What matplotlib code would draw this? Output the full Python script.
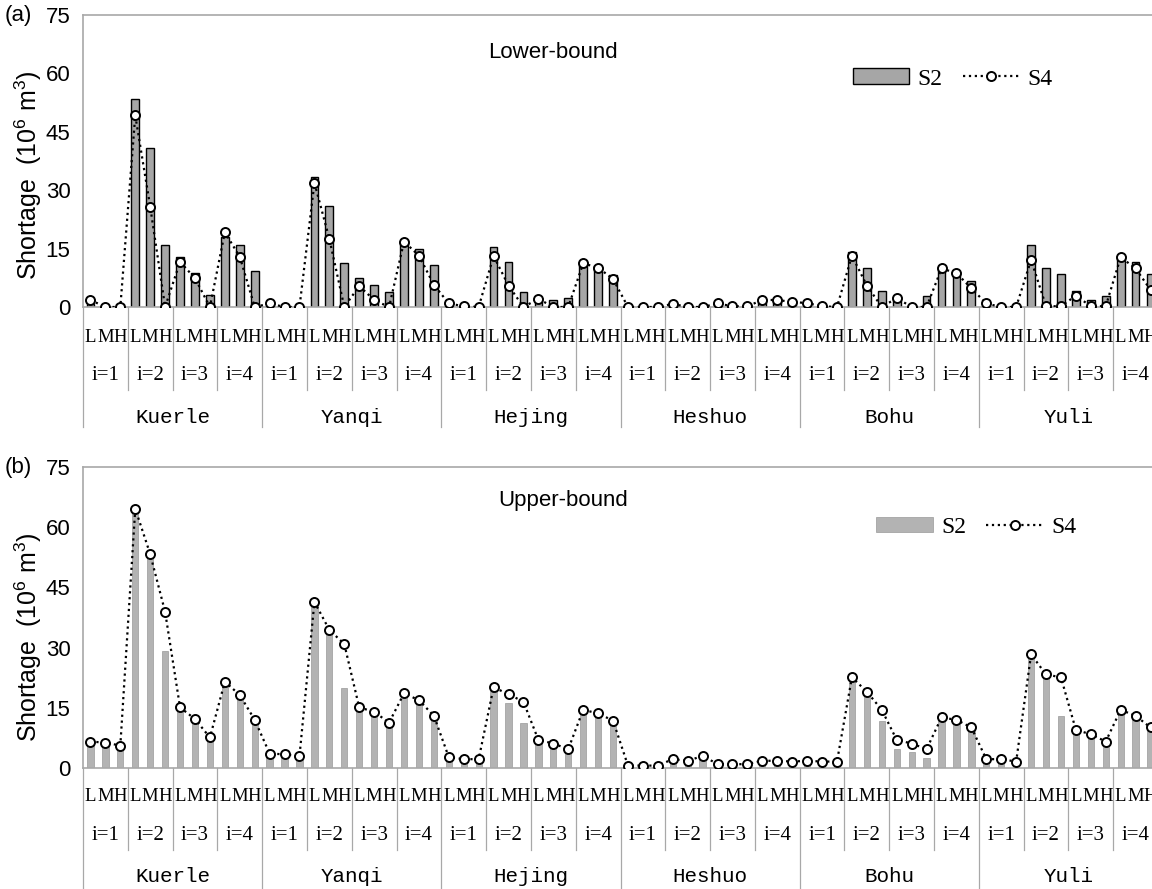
import numpy as np
import matplotlib
matplotlib.use('Agg')
import matplotlib.pyplot as plt

plt.rcParams['font.family'] = ['Liberation Sans', 'DejaVu Sans']
plt.rcParams['mathtext.fontset'] = 'custom'
plt.rcParams['mathtext.rm'] = 'Liberation Sans'
plt.rcParams['mathtext.it'] = 'Liberation Sans'

regions = ['Kuerle', 'Yanqi', 'Hejing', 'Heshuo', 'Bohu', 'Yuli']
periods = ['i=1', 'i=2', 'i=3', 'i=4']
levels = ['L', 'M', 'H']

# lower-bound shortage (10^6 m3), order: region -> period -> L/M/H
lower_s2 = [0.8, 0, 0.8, 53.4, 40.9, 15.9, 12.9, 8.7, 3.1, 18.0, 15.9, 9.3,
            0.3, 0, 0, 33.5, 26.0, 11.2, 7.5, 5.7, 3.8, 16.6, 14.9, 10.8,
            0, 0, 0, 15.5, 11.6, 3.8, 2.3, 1.8, 2.3, 10.8, 10.4, 8.2,
            0, 0, 0, 0.8, 0.5, 0, 0.7, 0, 0, 1.6, 1.5, 1.2,
            0.3, 0, 0, 14.2, 10.1, 4.1, 2.3, 0.5, 2.8, 9.9, 8.7, 6.7,
            0.3, 0, 0, 15.9, 10.1, 8.5, 4.1, 1.8, 2.8, 12.5, 11.5, 8.5]
lower_s4 = [1.8, 0, 0, 49.2, 25.8, 0, 11.6, 7.4, 0, 19.2, 12.9, 0,
            0.9, 0, 0, 31.9, 17.5, 0, 5.4, 1.8, 0, 16.8, 13.2, 5.7,
            0.9, 0.2, 0, 13.1, 5.5, 0, 2.1, 0, 0, 11.2, 10.1, 7.2,
            0, 0, 0, 0.8, 0, 0, 0.9, 0.2, 0.2, 1.8, 1.8, 1.3,
            1.0, 0.2, 0, 13.2, 5.5, 0, 2.3, 0, 0, 9.9, 8.7, 4.8,
            0.9, 0, 0, 12.1, 0.2, 0.2, 2.9, 0.2, 0.2, 12.8, 9.9, 4.4]

# upper-bound shortage
upper_s2 = [6.2, 5.7, 5.1, 64.0, 52.5, 29.2, 15.0, 12.0, 7.3, 20.5, 18.0, 11.5,
            3.3, 3.0, 2.7, 40.5, 33.5, 20.0, 14.8, 13.5, 10.8, 18.0, 16.5, 12.5,
            2.0, 2.0, 2.0, 19.5, 16.1, 11.1, 6.5, 5.6, 4.4, 14.0, 13.0, 11.5,
            0.4, 0.4, 0.4, 1.8, 1.5, 2.5, 0.7, 0.7, 0.7, 1.5, 1.5, 1.3,
            1.5, 1.4, 1.4, 22.0, 18.5, 11.8, 4.7, 3.9, 2.4, 12.0, 11.5, 9.6,
            1.8, 1.8, 1.4, 27.5, 22.5, 13.0, 9.0, 8.0, 5.3, 14.0, 12.5, 9.5]
upper_s4 = [6.6, 6.3, 5.6, 64.6, 53.3, 38.9, 15.1, 12.2, 7.6, 21.5, 18.2, 12.0,
            3.6, 3.4, 3.0, 41.4, 34.4, 30.9, 15.1, 14.0, 11.3, 18.6, 16.9, 13.0,
            2.7, 2.2, 2.2, 20.1, 18.4, 16.5, 7.0, 6.1, 4.7, 14.5, 13.6, 11.8,
            0.6, 0.6, 0.6, 2.2, 1.8, 3.0, 1.0, 0.9, 1.0, 1.8, 1.8, 1.6,
            1.8, 1.6, 1.6, 22.6, 19.0, 14.5, 7.0, 6.1, 4.7, 12.6, 12.0, 10.1,
            2.2, 2.2, 1.6, 28.3, 23.3, 22.6, 9.5, 8.4, 6.6, 14.5, 13.0, 10.1]

yticks = [0, 15, 30, 45, 60, 75]
n = len(lower_s2)
x = np.arange(n)

fig = plt.figure(figsize=(11.52, 8.89), dpi=100)
W, H = 1152, 889


def make_axes(top_px, bottom_px):
    left = 83
    return fig.add_axes([left / W, 1 - bottom_px / H, 1075 / W, (bottom_px - top_px) / H])


def category_axis(ax, y_lmh, y_i, y_reg, y_isep, y_rsep):
    trans = ax.get_xaxis_transform()
    for k in range(n):
        ax.text(k, y_lmh, levels[k % 3], transform=trans, ha='center', va='center',
                fontsize=13.5, fontfamily='Liberation Serif', clip_on=False)
    for g in range(n // 3):
        ax.text(3 * g + 1, y_i, periods[g % 4], transform=trans, ha='center', va='center',
                fontsize=15, fontfamily='Liberation Serif', clip_on=False)
    for r in range(n // 12):
        ax.text(12 * r + 5.5, y_reg, regions[r], transform=trans, ha='center', va='center',
                fontsize=15, fontfamily='Liberation Mono', clip_on=False)
    for b in range(0, n + 1, 3):
        yend = y_rsep if b % 12 == 0 else y_isep
        ax.plot([b - 0.5, b - 0.5], [0, yend], transform=trans, color='#a8a8a8',
                lw=0.9, clip_on=False)


def style_axes(ax, label_y):
    ax.set_xlim(-0.5, n - 0.5)
    ax.set_ylim(0, 75)
    ax.set_yticks(yticks)
    ax.set_xticks([])
    ax.tick_params(axis='y', length=0, labelsize=16, pad=9)
    for s in ['top', 'left', 'bottom']:
        ax.spines[s].set_color('#a8a8a8')
        ax.spines[s].set_linewidth(1.2)
    ax.spines['right'].set_visible(False)
    ax.set_ylabel('Shortage  (10$^6$ m$^3$)', fontsize=18)
    ax.yaxis.set_label_coords(-0.036, label_y)


def add_legend(ax, anchor):
    h, l = ax.get_legend_handles_labels()
    order = [l.index('S2'), l.index('S4')]
    ax.legend([h[i] for i in order], [l[i] for i in order], loc='center left',
              bbox_to_anchor=anchor, frameon=False, ncol=2,
              prop={'family': 'Liberation Serif', 'size': 17}, handlelength=2.4,
              handleheight=0.65, handletextpad=0.35, columnspacing=0.85,
              borderpad=0, borderaxespad=0, numpoints=1)


# panel (a)
ax1 = make_axes(15, 307)
ax1.bar(x, lower_s2, width=0.52, color='#a6a6a6', edgecolor='black', linewidth=1.0,
        label='S2', zorder=2)
ax1.plot(x, lower_s4, linestyle=':', color='black', lw=1.6, marker='o', markersize=6.5,
         markerfacecolor='white', markeredgecolor='black', markeredgewidth=1.4,
         label='S4', zorder=3)
style_axes(ax1, 0.45)
category_axis(ax1, -0.103, -0.233, -0.377, -0.284, -0.411)
ax1.text(0.437, 0.873, 'Lower-bound', transform=ax1.transAxes, ha='center', va='center',
         fontsize=16)
add_legend(ax1, (0.716, 0.781))
fig.text(5 / W, 1 - 15 / H, '(a)', fontsize=16, va='center', ha='left')

# panel (b)
ax2 = make_axes(467, 768)
ax2.bar(x, upper_s2, width=0.42, color='#b3b3b3', edgecolor='#9a9a9a', linewidth=0.5,
        label='S2', zorder=2)
ax2.plot(x, upper_s4, linestyle=':', color='black', lw=1.6, marker='o', markersize=6.5,
         markerfacecolor='white', markeredgecolor='black', markeredgewidth=1.4,
         label='S4', zorder=3)
style_axes(ax2, 0.435)
category_axis(ax2, -0.096, -0.223, -0.362, -0.272, -0.40)
ax2.text(0.447, 0.89, 'Upper-bound', transform=ax2.transAxes, ha='center', va='center',
         fontsize=16)
add_legend(ax2, (0.738, 0.80))
fig.text(5 / W, 1 - 467 / H, '(b)', fontsize=16, va='center', ha='left')

fig.savefig('out.png', dpi=100)
